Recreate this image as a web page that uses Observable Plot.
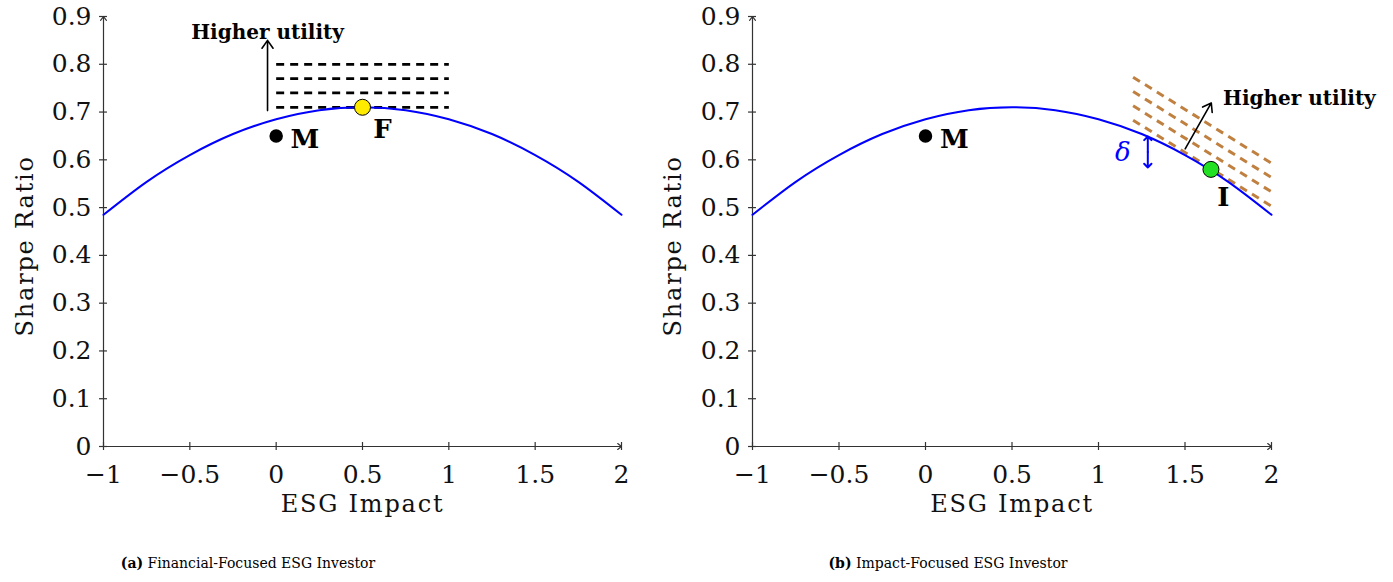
<!DOCTYPE html>
<html><head><meta charset="utf-8">
<script src="https://cdn.jsdelivr.net/npm/d3@7"></script>
<script src="https://cdn.jsdelivr.net/npm/@observablehq/plot@0.6"></script>
<style>
body{margin:0;background:#fff;}
#wrap{position:relative;width:1393px;height:582px;background:#fff;}
.panel{position:absolute;top:0;width:650px;height:540px;}
.cap{position:absolute;top:552px;font-family:"DejaVu Serif";font-size:14px;line-height:22px;transform:translateX(-50%);white-space:nowrap;color:#000;}
</style></head><body>
<div id="wrap">
<div id="pa" class="panel" style="left:0"></div>
<div id="pb" class="panel" style="left:650px"></div>
<div class="cap" style="left:248px"><b>(a)</b> Financial-Focused ESG Investor</div>
<div class="cap" style="left:948px"><b>(b)</b> Impact-Focused ESG Investor</div>
</div>
<script>
// ---- data ----
const xTicks = [-1, -0.5, 0, 0.5, 1, 1.5, 2];
const yTicks = [0, 0.1, 0.2, 0.3, 0.4, 0.5, 0.6, 0.7, 0.8, 0.9];
const frontierX = [-1, -0.75, -0.5, -0.25, 0, 0.25, 0.5, 0.75, 1, 1.25, 1.5, 1.75, 2];
const frontierY = [0.485, 0.554, 0.61, 0.654, 0.685, 0.704, 0.71, 0.704, 0.685, 0.654, 0.61, 0.554, 0.485];
const pointNames = ["M", "F", "I"];
const pointX = [0, 0.5, 1.65];
const pointY = [0.65, 0.71, 0.58];
const labelX = [0.167, 0.616, 1.721];
const labelY = [0.642, 0.663, 0.521];
// financial investor: horizontal indifference lines
const flatLevels = [0.71, 0.74, 0.77, 0.80];
const flatFrom = 0, flatTo = 1;
// impact investor: slanted indifference lines
const slantFromX = 1.2, slantToX = 2.0;
const slantStartY = [0.683, 0.713, 0.743, 0.773];
const slantEndY = [0.503, 0.533, 0.563, 0.593];
// utility arrows and texts
const utilArrowA = [-0.05, 0.703, -0.05, 0.85];
const utilArrowB = [1.501, 0.623, 1.652, 0.719];
const utilTextA = [-0.05, 0.866];
const utilTextB = [1.72, 0.729];
// delta gap
const deltaX = 1.285, deltaTop = 0.649, deltaBottom = 0.584;
const deltaText = [1.141, 0.614];
// axis titles
const xTitle = "ESG Impact", yTitle = "Sharpe Ratio";
const yTitlePos = [-1.455, 0.42];

const serif = "DejaVu Serif";
const axisColor = "#333333";
const fmt = d => d < 0 ? "\u2212" + Math.abs(d) : String(d);
const frontier = frontierX.map((x, i) => ({x, y: frontierY[i]}));
const pts = pointNames.map((n, i) => ({n, x: pointX[i], y: pointY[i], lx: labelX[i], ly: labelY[i]}));

function panel(marginLeft, before, after) {
  return Plot.plot({
    width: 650, height: 540,
    marginLeft, marginRight: 29, marginTop: 16, marginBottom: 94,
    x: {domain: [-1, 2]},
    y: {domain: [0, 0.9]},
    style: {fontFamily: serif, fontSize: "25px", background: "white", overflow: "visible", color: "#111"},
    marks: [
      Plot.axisX(xTicks, {tickSize: 0, tickPadding: 19, tickFormat: fmt, label: null}),
      Plot.axisY(yTicks, {tickSize: 0, tickPadding: 12, tickFormat: fmt, label: null}),
      Plot.ruleX(xTicks, {x: d => d, y1: () => -0.0084, y2: () => 0.0084, stroke: axisColor, strokeWidth: 1.2}),
      Plot.ruleY(yTicks, {y: d => d, x1: () => -1.023, x2: () => -0.977, stroke: axisColor, strokeWidth: 1.2}),
      Plot.arrow([{x1: -1.02, y1: 0, x2: 2, y2: 0}, {x1: -1, y1: 0, x2: -1, y2: 0.9}],
        {x1: "x1", y1: "y1", x2: "x2", y2: "y2", stroke: axisColor, strokeWidth: 1.2, headLength: 6, headAngle: 75}),
      Plot.text([xTitle], {frameAnchor: "bottom", dy: 65, fontSize: 24, fill: "#111"}),
      Plot.text([yTitle], {x: () => yTitlePos[0], y: () => yTitlePos[1], rotate: -90, fontSize: 24, fill: "#111"}),
      ...before,
      Plot.line(frontier, {x: "x", y: "y", curve: "natural", stroke: "#0000ff", strokeWidth: 2}),
      ...after
    ]
  });
}

const A = panel(103, [
  Plot.link(flatLevels, {x1: () => flatFrom, x2: () => flatTo, y1: d => d, y2: d => d,
    stroke: "black", strokeWidth: 2.8, strokeDasharray: "8,6"}),
  Plot.arrow([utilArrowA], {x1: d => d[0], y1: d => d[1], x2: d => d[2], y2: d => d[3],
    stroke: "black", strokeWidth: 1.6, headLength: 9, headAngle: 70}),
  Plot.text(["Higher utility"], {x: () => utilTextA[0], y: () => utilTextA[1], fontWeight: "bold", fontSize: 20, fill: "black"})
], [
  Plot.dot([pts[0]], {x: "x", y: "y", r: 6, fill: "black", stroke: "black"}),
  Plot.dot([pts[1]], {x: "x", y: "y", r: 8, fill: "#ffeb00", stroke: "black", strokeWidth: 1}),
  Plot.text([pts[0], pts[1]], {x: "lx", y: "ly", text: "n", fontWeight: "bold", fontSize: 26, fill: "black"})
]);

const B = panel(102, [
  Plot.link(slantStartY, {x1: () => slantFromX, x2: () => slantToX, y1: d => d, y2: (d, i) => slantEndY[i],
    stroke: "#bf8040", strokeWidth: 3, strokeDasharray: "8,6"}),
  Plot.arrow([utilArrowB], {x1: d => d[0], y1: d => d[1], x2: d => d[2], y2: d => d[3],
    stroke: "black", strokeWidth: 1.6, headLength: 9, headAngle: 70}),
  Plot.text(["Higher utility"], {x: () => utilTextB[0], y: () => utilTextB[1], textAnchor: "start", fontWeight: "bold", fontSize: 20, fill: "black"}),
  Plot.arrow([{a: (deltaTop + deltaBottom) / 2, b: deltaTop}, {a: (deltaTop + deltaBottom) / 2, b: deltaBottom}],
    {x1: () => deltaX, x2: () => deltaX, y1: "a", y2: "b", stroke: "#0000ff", strokeWidth: 2, headLength: 10, headAngle: 90}),
  Plot.text(["\u03b4"], {x: () => deltaText[0], y: () => deltaText[1], fontStyle: "italic", fontSize: 26, fill: "#0000ff"})
], [
  Plot.dot([pts[0]], {x: "x", y: "y", r: 6, fill: "black", stroke: "black"}),
  Plot.dot([pts[2]], {x: "x", y: "y", r: 8, fill: "#22e022", stroke: "black", strokeWidth: 1}),
  Plot.text([pts[0], pts[2]], {x: "lx", y: "ly", text: "n", fontWeight: "bold", fontSize: 26, fill: "black"})
]);

document.getElementById("pa").appendChild(A);
document.getElementById("pb").appendChild(B);
for (const svg of [A, B]) {
  d3.select(svg).selectAll("text").filter(function () {
    return this.textContent === xTitle || this.textContent === yTitle;
  }).style("letter-spacing", "1.8px");
}
</script>
</body></html>
